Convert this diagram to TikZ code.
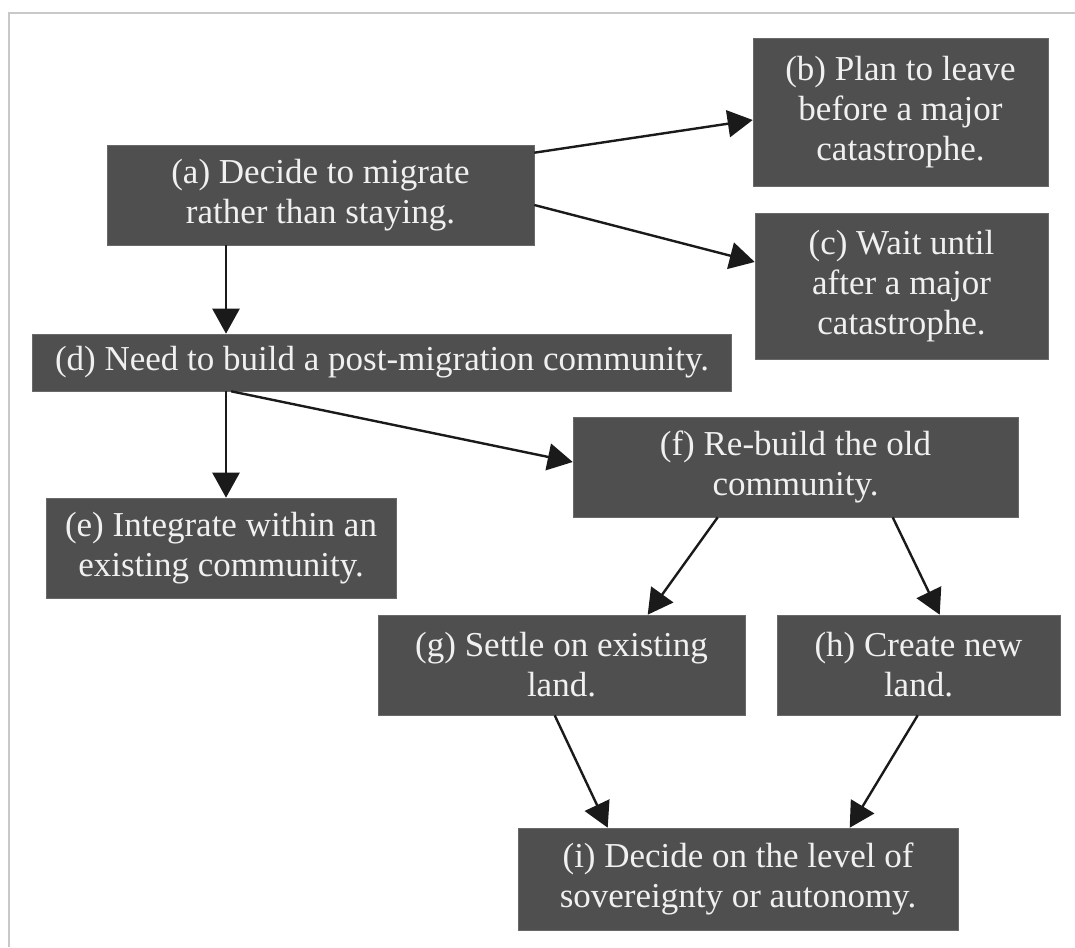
\documentclass[tikz,border=0pt]{standalone}
\usepackage{fontspec}
\setmainfont{Liberation Serif}
\usetikzlibrary{arrows.meta,calc}
\definecolor{boxfill}{HTML}{4F4F4F}
\definecolor{boxtext}{HTML}{F0F0F0}
\definecolor{framegray}{HTML}{C8C8C8}
\definecolor{arrowcol}{HTML}{1A1A1A}
\begin{document}
\begin{tikzpicture}[x=1pt,y=-1pt,
  stepbox/.style={fill=boxfill, draw=boxfill!85!white, line width=0.6pt, text=boxtext, align=center, inner sep=0pt,
    font=\fontsize{35}{40}\selectfont},
  arr/.style={draw=arrowcol, line width=2.4pt, -{Triangle[length=25pt,width=27pt]}}
]
\useasboundingbox (0,0) rectangle (1075,947);
\draw[framegray, line width=1.6pt] (9,947) -- (9,13) -- (1075,13);

\node[stepbox, minimum width=427pt, minimum height=100pt] (a) at (320.5,195) {(a) Decide to migrate\\rather than staying.};
\node[stepbox, minimum width=295pt, minimum height=148pt] (b) at (900.5,112) {(b) Plan to leave\\before a major\\catastrophe.};
\node[stepbox, minimum width=293pt, minimum height=146pt] (c) at (901.5,286) {(c) Wait until\\after a major\\catastrophe.};
\node[stepbox, minimum width=699pt, minimum height=57pt] (d) at (382,362.5) {(d) Need to build a post-migration community.};
\node[stepbox, minimum width=350pt, minimum height=100pt] (e) at (221,548) {(e) Integrate within an\\existing community.};
\node[stepbox, minimum width=445pt, minimum height=100pt] (f) at (795.5,467) {(f) Re-build the old\\community.};
\node[stepbox, minimum width=367pt, minimum height=100pt] (g) at (561.5,665) {(g) Settle on existing\\land.};
\node[stepbox, minimum width=283pt, minimum height=100pt] (h) at (918.5,665) {(h) Create new\\land.};
\node[stepbox, minimum width=440pt, minimum height=102pt] (i) at (738,879) {(i) Decide on the level of\\sovereignty or autonomy.};

\coordinate (vx) at (226,0);

\draw[arr] ([yshift=-8pt]a.north east) -- ([yshift=-8pt]b.west);
\draw[arr] ([yshift=-10pt]a.east) -- ([yshift=24pt]c.west);
\draw[arr] (a.south -| vx) -- (d.north -| vx);
\draw[arr] (d.south -| vx) -- (e.north -| vx);
\draw[arr] ([xshift=199pt]d.south west) -- ([yshift=5pt]f.west);
\draw[arr] ([xshift=145pt]f.south west) -- ([xshift=270pt]g.north west);
\draw[arr] ([xshift=320pt]f.south west) -- ([xshift=163pt]h.north west);
\draw[arr] ([xshift=177pt]g.south west) -- ([xshift=90pt]i.north west);
\draw[arr] ([xshift=141pt]h.south west) -- ([xshift=332pt]i.north west);
\end{tikzpicture}
\end{document}
